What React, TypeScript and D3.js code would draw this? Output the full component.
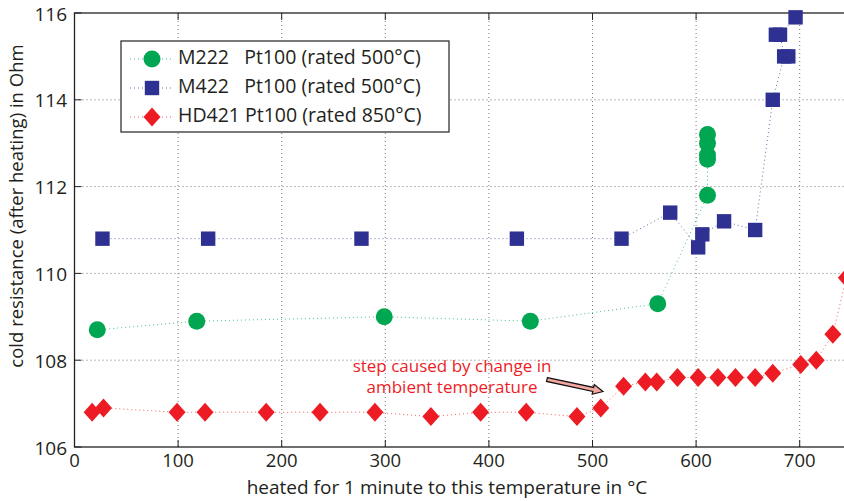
import React from "react";
import * as d3 from "d3";

const m222X = [22, 118, 299, 440, 563, 611, 611, 611, 611, 611];
const m222Y = [108.7, 108.9, 109.0, 108.9, 109.3, 111.8, 112.63, 112.73, 113.0, 113.2];

const m422X = [27, 129, 277, 427, 528, 575, 602, 606, 627, 657, 674, 685, 681, 696];
const m422Y = [110.8, 110.8, 110.8, 110.8, 110.8, 111.4, 110.6, 110.9, 111.2, 111.0, 114.0, 115.0, 115.5, 115.9];
const m422Extra = [
  [689, 115.0],
  [677, 115.5],
];

const hd421X = [17, 28, 99, 126, 185, 237, 290, 344, 392, 436, 485, 508, 530, 551, 562, 582, 602, 621, 638, 657, 674, 701, 716, 732, 745];
const hd421Y = [106.8, 106.9, 106.8, 106.8, 106.8, 106.8, 106.8, 106.7, 106.8, 106.8, 106.7, 106.9, 107.4, 107.5, 107.5, 107.6, 107.6, 107.6, 107.6, 107.6, 107.7, 107.9, 108.0, 108.6, 109.9];

const xTicks = [0, 100, 200, 300, 400, 500, 600, 700];
const yTicks = [106, 108, 110, 112, 114, 116];

const legendLabels = [
  "M222   Pt100 (rated 500°C)",
  "M422   Pt100 (rated 500°C)",
  "HD421 Pt100 (rated 850°C)",
];

const GREEN = "#00a651";
const BLUE = "#2e3192";
const RED = "#ed1c24";
const FONT = "'Open Sans', 'DejaVu Sans', sans-serif";

export default function App() {
  const W = 844;
  const H = 501;
  const left = 74.5;
  const top = 13;
  const bottom = 447;
  const x = d3.scaleLinear().domain([0, 750]).range([left, left + 777]);
  const y = d3.scaleLinear().domain([106, 116]).range([bottom, top]);
  const right = x(750);

  const line = d3
    .line<[number, number]>()
    .x((d) => x(d[0]))
    .y((d) => y(d[1]));

  const m222 = m222X.map((v, i) => [v, m222Y[i]] as [number, number]);
  const m422 = m422X.map((v, i) => [v, m422Y[i]] as [number, number]);
  const hd421 = hd421X.map((v, i) => [v, hd421Y[i]] as [number, number]);

  const circle = (cx: number, cy: number, k: string) => (
    <circle key={k} cx={cx} cy={cy} r={8.5} fill={GREEN} />
  );
  const square = (cx: number, cy: number, k: string) => (
    <rect key={k} x={cx - 7.2} y={cy - 7.2} width={14.4} height={14.4} fill={BLUE} />
  );
  const diamond = (cx: number, cy: number, k: string) => (
    <path
      key={k}
      d={`M${cx},${cy - 9.5}L${cx + 8.5},${cy}L${cx},${cy + 9.5}L${cx - 8.5},${cy}Z`}
      fill={RED}
    />
  );

  // annotation arrow
  const ax1 = 547, ay1 = 379.5, ax2 = 603, ay2 = 391.5;
  const ang = Math.atan2(ay2 - ay1, ax2 - ax1);
  const len = Math.hypot(ax2 - ax1, ay2 - ay1);
  const sw = 2, hw = 5, hl = 10;
  const arrowPts = [
    [0, -sw], [len - hl, -sw], [len - hl, -hw], [len, 0], [len - hl, hw], [len - hl, sw], [0, sw],
  ]
    .map(([px, py]) => [
      ax1 + px * Math.cos(ang) - py * Math.sin(ang),
      ay1 + px * Math.sin(ang) + py * Math.cos(ang),
    ])
    .map((p) => p.join(","))
    .join(" ");

  const legendRows = [GREEN, BLUE, RED];
  const legY = [59, 88, 117];

  return (
    <svg
      width={W}
      height={H}
      style={{ position: "absolute", left: 0, top: 0, background: "#fff" }}
      fontFamily={FONT}
    >
      <defs>
        <clipPath id="plot">
          <rect x={left} y={top - 10} width={right - left + 10} height={bottom - top + 20} />
        </clipPath>
      </defs>
      {/* grid */}
      {xTicks.slice(1).map((t) => (
        <line key={"gx" + t} x1={x(t)} x2={x(t)} y1={top} y2={bottom} stroke="#777" strokeWidth={1} strokeDasharray="1,3" />
      ))}
      {yTicks.slice(1, -1).map((t) => (
        <line key={"gy" + t} x1={left} x2={right} y1={y(t)} y2={y(t)} stroke="#777" strokeWidth={1} strokeDasharray="1,3" />
      ))}
      {/* frame */}
      <rect x={left} y={top} width={right - left} height={bottom - top} fill="none" stroke="#222" strokeWidth={1.3} />
      {xTicks.map((t) => (
        <g key={"tx" + t}>
          <line x1={x(t)} x2={x(t)} y1={bottom} y2={bottom - 7} stroke="#222" strokeWidth={1} />
          <line x1={x(t)} x2={x(t)} y1={top} y2={top + 7} stroke="#222" strokeWidth={1} />
          <text x={x(t)} y={467} textAnchor="middle" fontSize={18.5} fill="#231f20">{t}</text>
        </g>
      ))}
      {yTicks.map((t) => (
        <g key={"ty" + t}>
          <line x1={left} x2={left + 7} y1={y(t)} y2={y(t)} stroke="#222" strokeWidth={1} />
          <text x={67} y={y(t) + 7.5} textAnchor="end" fontSize={19} fill="#231f20">{t}</text>
        </g>
      ))}
      <text x={447} y={494} textAnchor="middle" fontSize={19} fill="#231f20">
        heated for 1 minute to this temperature in °C
      </text>
      <text
        transform={`translate(23,${206}) rotate(-90)`}
        textAnchor="middle"
        fontSize={18.5}
        fill="#231f20"
      >
        cold resistance (after heating) in Ohm
      </text>

      <g clipPath="url(#plot)">
        <path d={line(m222) || ""} fill="none" stroke={GREEN} strokeWidth={1} strokeDasharray="1,3" opacity={0.7} />
        <path d={line(m422) || ""} fill="none" stroke={BLUE} strokeWidth={1} strokeDasharray="1,3" opacity={0.7} />
        <path d={line(hd421) || ""} fill="none" stroke={RED} strokeWidth={1} strokeDasharray="1,3" opacity={0.7} />
        {m222.map((d, i) => circle(x(d[0]), y(d[1]), "c" + i))}
        {m422.map((d, i) => square(x(d[0]), y(d[1]), "s" + i))}
        {m422Extra.map((d, i) => square(x(d[0]), y(d[1]), "se" + i))}
        {hd421.map((d, i) => diamond(x(d[0]), y(d[1]), "d" + i))}
      </g>

      {/* annotation */}
      <text x={452} y={372} textAnchor="middle" fontSize={17} fill={RED}>step caused by change in</text>
      <text x={452} y={393} textAnchor="middle" fontSize={17} fill={RED}>ambient temperature</text>
      <polygon points={arrowPts} fill="#f4a6a0" stroke="#111" strokeWidth={1.2} strokeLinejoin="miter" />

      {/* legend */}
      <rect x={121} y={41} width={328} height={91} fill="#fff" stroke="#222" strokeWidth={1.2} />
      {legendRows.map((c, i) => (
        <g key={"lg" + i}>
          <line x1={130} x2={172} y1={legY[i]} y2={legY[i]} stroke={c} strokeWidth={1} strokeDasharray="1,3" opacity={0.7} />
          {i === 0 ? circle(152, legY[i], "lc") : i === 1 ? square(152, legY[i], "ls") : diamond(152, legY[i], "ld")}
          <text x={178} y={legY[i] + 5} fontSize={19.5} fill="#231f20" style={{ whiteSpace: "pre" }}>
            {legendLabels[i]}
          </text>
        </g>
      ))}
    </svg>
  );
}
